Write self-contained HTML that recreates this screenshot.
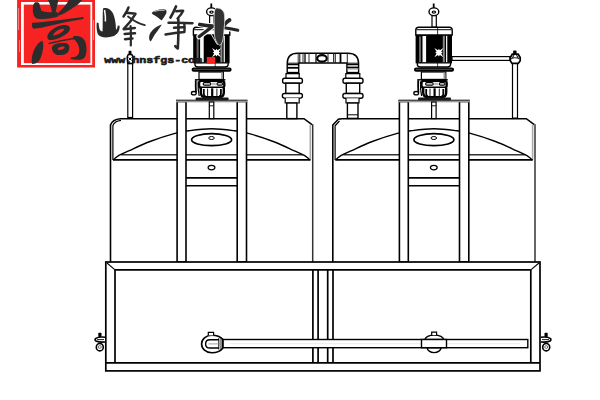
<!DOCTYPE html>
<html><head><meta charset="utf-8">
<style>
html,body{margin:0;padding:0;background:#fff;width:600px;height:400px;overflow:hidden;}
svg{display:block;}
</style></head>
<body>
<svg width="600" height="400" viewBox="0 0 600 400">
<defs>
<g id="tank" fill="none" stroke="#000" stroke-width="1.6">
  <line x1="310.3" y1="124.8" x2="310.3" y2="159.5" stroke-width="1.6" stroke="#aaa"/>
  <line x1="312.7" y1="124.2" x2="312.7" y2="262" stroke="#333" stroke-width="1.5"/>
  <line x1="113" y1="159.8" x2="310.5" y2="159.8" stroke-width="1.7"/>
  <line x1="121" y1="154.8" x2="303" y2="154.8" stroke-width="1.4" stroke="#333"/>
  <path d="M113.3,160.0 C114.0,159.4 114.7,157.9 117.5,156.3 C120.3,154.7 124.6,152.8 130.0,150.3 C135.4,147.8 142.5,144.3 150.0,141.5 C157.5,138.7 168.3,135.2 175.0,133.4 C181.7,131.6 183.9,131.4 190.0,130.6 C196.1,129.8 204.4,128.8 211.6,128.8 C218.8,128.8 227.1,129.8 233.2,130.6 C239.3,131.4 241.5,131.6 248.2,133.4 C254.9,135.2 265.7,138.7 273.2,141.5 C280.7,144.3 287.8,147.8 293.2,150.3 C298.6,152.8 302.9,154.7 305.7,156.3 C308.5,157.9 309.2,159.4 309.9,160.0" stroke-width="1.4"/>
  <!-- stand -->
  <rect x="177.1" y="101.5" width="8.9" height="160.5" fill="#fff"/>
  <rect x="237.2" y="101.5" width="9.3" height="160.5" fill="#fff"/>
  <rect x="176" y="99.7" width="71.5" height="2.6" fill="#999" stroke="none"/>
  <line x1="176" y1="100.3" x2="247.5" y2="100.3" stroke="#333" stroke-width="1.1"/>
  <rect x="209.3" y="102" width="4.5" height="16.6" fill="#fff" stroke-width="1.2"/>
  <line x1="209.3" y1="105.8" x2="213.8" y2="105.8" stroke-width="0.9"/>
  <ellipse cx="211.6" cy="139.7" rx="20" ry="6" stroke-width="1.7"/>
  <ellipse cx="211.5" cy="138" rx="2.8" ry="1.5" stroke-width="1"/>
  <ellipse cx="211.5" cy="167.6" rx="3.4" ry="2.2" stroke-width="1.2"/>
  <line x1="186" y1="177.8" x2="237.2" y2="177.8" stroke-width="1.8"/>
  <line x1="186" y1="185.7" x2="237.2" y2="185.7" stroke-width="1.6"/>
</g>
<g id="motor">
  <rect x="432.8" y="3.5" width="1.8" height="5" fill="#000"/>
  <ellipse cx="433.9" cy="11.8" rx="4.9" ry="3.9" fill="#fff" stroke="#000" stroke-width="1.4"/>
  <ellipse cx="433.9" cy="12.1" rx="2.3" ry="1.6" fill="#000"/><ellipse cx="433.9" cy="12.1" rx="0.8" ry="0.6" fill="#fff"/>
  <rect x="432" y="15.7" width="4.3" height="11.5" fill="#fff" stroke="#000" stroke-width="1.2"/>
  <path d="M415.8,35 V30 Q415.8,27.2 418.8,27.2 H449.2 Q452.2,27.2 452.2,30 V35 Z" fill="#fff" stroke="#000" stroke-width="1.4"/>
  <line x1="416.5" y1="29.7" x2="451.5" y2="29.7" stroke="#333" stroke-width="1.2"/>
  <line x1="437.6" y1="27.5" x2="437.6" y2="35" stroke="#000" stroke-width="0.8"/>
  <rect x="415.6" y="35" width="36.4" height="28.3" fill="#000"/>
  <rect x="422.5" y="36" width="3.6" height="26.6" fill="#fafafa"/>
  <rect x="419" y="36.5" width="2" height="25.5" fill="#666"/>
  <rect x="442.8" y="35.8" width="2" height="26.8" fill="#888"/>
  <rect x="446" y="35.8" width="1.3" height="26.8" fill="#eee"/>
  <path d="M443.43,57.13 L439.86,54.91 L438.90,56.40 L437.94,54.91 L434.37,57.13 L436.59,53.56 L435.10,52.60 L436.59,51.64 L434.37,48.07 L437.94,50.29 L438.90,48.80 L439.86,50.29 L443.43,48.07 L441.21,51.64 L442.70,52.60 L441.21,53.56 Z" fill="#fff"/>
  <path d="M417.3,62.8 H450.6 V64.3 Q450.6,67 447.6,67 H420.3 Q417.3,67 417.3,64.3 Z" fill="#fff" stroke="#000" stroke-width="1.3"/>
  <line x1="437.6" y1="63" x2="437.6" y2="67" stroke="#000" stroke-width="0.7"/>
  <rect x="414" y="67.5" width="40" height="4.3" rx="2.1" fill="#000"/>
  <line x1="416" y1="69.3" x2="452" y2="69.3" stroke="#666" stroke-width="0.8"/>
  <rect x="421.4" y="72" width="24.4" height="7.4" fill="#fff" stroke="#000" stroke-width="1.2"/>
  <rect x="443.5" y="72.5" width="2" height="6.6" fill="#999"/>
  <!-- pump head -->
  <line x1="417.3" y1="79.8" x2="447.8" y2="79.8" stroke="#000" stroke-width="1.4"/>
  <rect x="421.5" y="80.8" width="25.2" height="6.8" rx="2.2" fill="#fff" stroke="#000" stroke-width="2.3"/>
  <rect x="425.6" y="82.7" width="7.6" height="2.4" rx="1.2" fill="#fff" stroke="#000" stroke-width="1.2"/>
  <rect x="434.2" y="82.6" width="4" height="2.6" fill="#bbb"/>
  <rect x="439.4" y="82.7" width="5.6" height="2.4" rx="1.2" fill="#fff" stroke="#000" stroke-width="1.2"/>
  <path d="M423.2,88 V92.5 Q423.2,97.3 428.5,97.3 H441 Q446.2,97.3 446.2,92.5 V88" fill="#fff" stroke="#000" stroke-width="2.4"/>
  <path d="M426.2,89 V94 Q426.2,96 428,96.3" fill="none" stroke="#000" stroke-width="1.8"/>
  <path d="M443.3,89 V94 Q443.3,96 441.5,96.3" fill="none" stroke="#000" stroke-width="1.8"/>
  <line x1="434.6" y1="88.3" x2="434.6" y2="96.8" stroke="#000" stroke-width="2.2"/>
  <line x1="430" y1="88.6" x2="430" y2="96" stroke="#000" stroke-width="0.9"/>
  <line x1="439.3" y1="88.6" x2="439.3" y2="96" stroke="#000" stroke-width="0.9"/>
  <path d="M418.2,80.2 C418,84 418.1,88 418.4,92.5" fill="none" stroke="#000" stroke-width="1.8"/>
  <path d="M420.5,81.5 C420.3,86 420.6,91 421.6,96" fill="none" stroke="#000" stroke-width="1.2"/>
  <ellipse cx="416.2" cy="93.2" rx="2.4" ry="1.7" fill="#fff" stroke="#000" stroke-width="1.3"/>
  <rect x="418" y="97.6" width="33" height="2.6" rx="1" fill="#1a1a1a"/>
</g>
</defs>


<!-- logo stamp -->
<g>
  <path fill-rule="evenodd" d="M17.1,0 H95 V67.4 H17.1 Z M21,2 V65 H92.2 V2 Z" fill="#f72222"/>
  <path d="M18.6,8 V30 M19.5,40 V52 M93.5,20 V40" stroke="#f6a0a0" stroke-width="0.8"/>
  <rect x="23.8" y="4.6" width="66.6" height="58.5" fill="#f72222"/>
  <g fill="#2c2c2c">
    <path d="M35,2.3 C37.5,1.8 39.5,2.5 39.3,3.5 C40,6 40.5,8.5 41.5,11 C46,12.5 52,12.5 57,12 L58.6,16.3 C52,18.5 44,19.5 37.5,18.7 C34,17.5 33,14 32.8,10 C32.7,6 33.5,3.5 35,2.3 Z"/>
    <path d="M48,0 H58.5 C57.5,4 56.5,8 55.5,12.8 L52,13 C51.5,8 50,4 48,0 Z"/>
    <path d="M69,0 H82 C80,3 75,7 68,11 C64,13.5 61,15 58.5,15.5 L57.5,13.5 C62,10 66,5 69,0 Z"/>
    <path d="M32.3,22.8 C45,22 65,19.5 83,17 C84,17.3 84,19 82,19.3 C70,21 60,23.5 50,25.8 C44,27 38,28.6 34,28.8 C32,28.5 31.5,24.5 32.3,22.8 Z"/>
    <path fill-rule="evenodd" d="M47.5,38 C46,33 55,26 63,25 C69,24.5 71,27 69.5,30.5 C67,35 58,39.5 51,40 C49,40.2 48,39.5 47.5,38 Z M53,35.5 C56,35.5 62,33 64,30 C64.5,29 63,28.5 61,29 C57,30 54,32.5 53,35.5 Z"/>
    <path d="M42.5,41 C44,44 43,52 41,57 C39.5,61 37,64 32,64 C31,58 33,50 37,45 C39,42.5 41,41 42.5,41 Z"/>
    <path d="M48.3,43 C56,41 66,39 75,37.5 L75.2,39 C66,40.5 56,42.5 48.5,44.2 Z"/>
    <path d="M73,36.5 C78,35 83,37 85,41 C87,46 87,53 85,57 C83,60 78,60.5 71,59 L70.5,57.5 C75,57.5 78,56 79,53 C80,49 79,43 73,38.5 Z"/>
    <path fill-rule="evenodd" d="M52,47 C53,43.5 60,42.5 65,43 C69,43.5 70,46 69,50 C68,54 63,55.5 58,55 C54,54.5 51.5,51 52,47 Z M57.5,49.5 C59,50.5 63,50 64.5,48 C65,47 64,46.3 62,46.5 C59.5,46.8 57.8,48 57.5,49.5 Z"/>
  </g>
</g>
<!-- 峰 -->
<g fill="#2a2a2a" stroke="none">
  <path d="M103,8.5 C106.5,7 110.5,9 112.5,12.5 C115,17 116,24 116,30 C116.8,29 117.5,27.5 117.8,25.5 L119.6,25.8 C120,30 118,34 114,36 C108,38 101,38 98.5,35 C96.5,32.5 96.3,26 96.8,22.5 L98.6,23 C99,28 99.5,31 102.5,31.5 C103,25 102.5,15 103,8.5 Z"/>
</g>
<path d="M104.5,10 C105.3,14 105.6,18 105.4,21.5" fill="none" stroke="#fff" stroke-width="1.5"/>
<g fill="none" stroke="#2a2a2a" stroke-width="2.5" stroke-linecap="round" stroke-linejoin="round">
  <path d="M128.5,7.5 C127.5,10.5 125.5,14 123.5,16.5"/>
  <path d="M126,12.8 C129,13 132,13.2 135.5,13.8 C132.5,19 128,24.5 123.8,28.8"/>
  <path d="M128,16.5 C132.5,20 138,23.5 144.8,25.2" stroke-width="1.8"/>
  <path d="M123.8,29.2 C127.5,28.8 131,28.4 134.8,28"/>
  <path d="M124.6,34 C128,33.7 131.5,33.4 135,33.2"/>
  <path d="M125,39.2 C127.5,38.9 130,38.6 132.5,38.4"/>
  <path d="M130.6,26 C131,32 131,39 130.8,45.5" stroke-width="2.2"/>
</g>
<!-- 净 -->
<g fill="#2a2a2a" stroke="none">
  <path d="M151.8,12.8 C154.5,10 159.5,8.8 164,9.2 C166.5,9.4 167.2,11.5 166.2,13.5 C164.8,16 163.3,18.5 161.6,20.6 C159.6,19 157,16.6 154.5,15.2 C153,14.6 151.6,13.8 151.8,12.8 Z"/>
  <path d="M161.8,24.4 C160.3,27 157.3,31 154.8,34.5 C153.2,37 151.8,40 150.6,41.6 C148.9,40.2 148.6,37 149.8,34 C151.8,30 156,26.4 161.8,24.4 Z"/>
</g>
<path d="M154.5,11.6 C157.5,10.4 161,10 164.5,10.4" fill="none" stroke="#ddd" stroke-width="0.9"/>
<g fill="none" stroke="#2a2a2a" stroke-width="2.4" stroke-linecap="round" stroke-linejoin="round">
  <path d="M176,6.5 C174.5,10 173,13.5 170.5,17.5" stroke-width="2.7"/>
  <path d="M176.2,11.2 C178.5,10.8 181,10.6 183.2,10.8 C182,13.5 180,16 177.5,18.5"/>
  <path d="M168.5,22.8 C176,22.6 184,22.7 192.5,23.2"/>
  <path d="M174,27.8 C177.5,27.4 181,27.2 184.5,27.3 L184.3,23.5"/>
  <path d="M165.5,34.5 C172,33.2 178,32.4 184.5,32 L184.5,27.8"/>
  <path d="M178.3,19 C178.6,28 178.4,38 177.8,48.5 C176.8,47.5 176,46.8 175.3,46.2" stroke-width="2.6"/>
</g>
<!-- tanks -->
<g fill="none" stroke="#000" stroke-width="1.6">
  <path d="M110.5,262 V125 C111.5,122 115,119.2 120.5,118.7 H304 L312,124.6"/>
  <path d="M112.9,160 V125.5 C113.8,123 116.5,121 121,120.4" stroke-width="1.2"/>
  <path d="M332.8,262 V125 L338.3,119.3 C339,118.9 340,118.7 342,118.7 H526.3 L534.3,124.6"/>
  <path d="M335.1,160 V125.8 L339.5,121" stroke-width="1.2"/>
</g>
<use href="#tank"/>
<use href="#tank" transform="translate(222.3,0)"/>


<!-- left rod -->
<g fill="#fff" stroke="#000" stroke-width="1.2">
  <rect x="127.8" y="63.5" width="4.8" height="54"/>
  <rect x="512.5" y="63.4" width="5" height="54.7"/>
  <rect x="452" y="56.6" width="58" height="3.8" />
</g>
<!-- right rod fitting -->
<path d="M512.3,54.2 H518.2 L520.2,57.5 V60.8 L518.3,63.4 H512 L510.3,60.8 V57.5 Z" fill="#fff" stroke="#000" stroke-width="1.7"/>
<path d="M511,58.8 C513,57.5 517,57.5 519.5,58.8 M514,55 L512,58.5 M516.5,55 L518.5,58.5" fill="none" stroke="#222" stroke-width="1.1"/>
<rect x="513.1" y="50.6" width="3.5" height="3.5" rx="0.8" fill="#000"/>
<!-- left rod fitting -->
<path d="M128.3,54.5 H131.8 L133,57 L132.6,63.6 H127.7 L127.2,57 Z" fill="#fff" stroke="#000" stroke-width="1.5"/>
<path d="M128.4,57.5 L131.5,60.5 M131.5,57.5 L128.4,60.5" stroke="#000" stroke-width="1"/>
<rect x="128.6" y="50.8" width="2.8" height="3.2" fill="#000"/>

<!-- connecting pipe -->
<g fill="#fff" stroke="#000" stroke-width="1.4">
  <path d="M287.2,74 V63.5 Q287.2,53.2 297.5,53.2 H348 Q358.6,53.2 358.6,63.5 V74 H346.9 V63 H298.7 V74 Z"/>
  <path d="M286,78.2 V73.6 H299.2 V78.2" stroke-width="1.2"/>
  <path d="M345.8,78.2 V73.6 H359.8 V78.2" stroke-width="1.2"/>
  <rect x="282.6" y="78.2" width="19.8" height="5" rx="2"/>
  <rect x="285.8" y="83.2" width="13.4" height="10.3"/>
  <rect x="282.4" y="93.5" width="20" height="4.6" rx="2"/>
  <path d="M285.2,98.1 V103 H299.2 V98.1" stroke-width="1.2"/>
  <rect x="286.8" y="103" width="10.1" height="15.6"/>
  <rect x="343" y="78.2" width="20" height="5" rx="2"/>
  <rect x="346.3" y="83.2" width="13.4" height="10.3"/>
  <rect x="342.9" y="93.5" width="20.1" height="4.8" rx="2"/>
  <path d="M346,98.3 V103 H359 V98.3" stroke-width="1.2"/>
  <rect x="347.4" y="103" width="10.6" height="15.4"/>
  <line x1="347.4" y1="114.8" x2="358" y2="114.8" stroke-width="1"/>
  <ellipse cx="322" cy="58.4" rx="4.8" ry="3.2" stroke-width="2.2"/>
</g>
<g stroke="#000" stroke-width="1">
  <line x1="298.2" y1="53.5" x2="298.2" y2="62.8" stroke="#333"/>
  <line x1="299.8" y1="53.5" x2="299.8" y2="62.8"/>
  <line x1="303" y1="53.5" x2="303" y2="62.8" stroke="#333"/>
  <line x1="305" y1="53.5" x2="305" y2="62.8" stroke-width="1.3"/>
  <line x1="309" y1="53.5" x2="309" y2="62.8" stroke="#333"/>
  <line x1="316" y1="53.5" x2="316" y2="62.8" stroke-width="1.2"/>
  <line x1="328" y1="53.5" x2="328" y2="62.8" stroke="#222"/>
  <line x1="333.5" y1="53.5" x2="333.5" y2="62.8" stroke="#333"/>
  <line x1="335.2" y1="53.5" x2="335.2" y2="62.8"/>
  <line x1="340.5" y1="53.5" x2="340.5" y2="62.8" stroke-width="1.8"/>
  <line x1="347.3" y1="53.5" x2="347.3" y2="62.8" stroke="#222"/>
  <line x1="287.2" y1="63.2" x2="298.7" y2="63.2"/>
  <line x1="287.2" y1="64.6" x2="298.7" y2="64.6" stroke-width="1.3"/>
  <line x1="287.2" y1="67.8" x2="298.7" y2="67.8" stroke-width="1.8"/>
  <line x1="287.2" y1="72.5" x2="298.7" y2="72.5" stroke-width="1.3"/>
  <line x1="346.9" y1="63.2" x2="358.6" y2="63.2"/>
  <line x1="346.9" y1="64.6" x2="358.6" y2="64.6" stroke-width="1.3"/>
  <line x1="346.9" y1="67.5" x2="358.6" y2="67.5" stroke-width="1.8"/>
  <line x1="346.9" y1="69" x2="358.6" y2="69" stroke="#999"/>
  <line x1="346.9" y1="72.5" x2="358.6" y2="72.5" stroke-width="1.3"/>
</g>

<!-- frame -->
<g fill="none" stroke="#000" stroke-width="1.7">
  <rect x="105.8" y="262" width="434.2" height="108.9" fill="#fff"/>
  <line x1="115" y1="269.8" x2="530.8" y2="269.8"/>
  <line x1="115" y1="269.8" x2="115" y2="362.9"/>
  <line x1="530.8" y1="269.8" x2="530.8" y2="362.9"/>
  <line x1="105.8" y1="362.9" x2="540" y2="362.9"/>
  <line x1="107" y1="263" x2="115" y2="269.8" stroke-width="1.1"/>
  <line x1="539" y1="263" x2="530.8" y2="269.8" stroke-width="1.1"/>
  <line x1="312.9" y1="269.8" x2="312.9" y2="362.9"/>
  <line x1="318.1" y1="269.8" x2="318.1" y2="362.9"/>
  <line x1="327.7" y1="269.8" x2="327.7" y2="362.9"/>
  <line x1="333" y1="269.8" x2="333" y2="362.9"/>
</g>

<!-- bottom pipe -->
<g fill="#fff" stroke="#000" stroke-width="1.4">
  <rect x="222.8" y="339.5" width="305" height="8.2"/>
  <line x1="230" y1="343.7" x2="520" y2="343.7" stroke="#ddd" stroke-width="0.6"/>
  <path d="M222.8,339.3 C220,336 216.5,335.2 211.8,335.2 C205.8,335.2 201.6,339.2 201.6,344 C201.6,348.8 205.8,352.7 211.8,352.7 C216.5,352.7 220,351.8 222.8,348.2 Z" stroke-width="1.6"/>
  <path d="M218.8,339.8 H209.8 Q205.6,339.8 205.6,343.9 Q205.6,348 209.8,348 H218.8" fill="none" stroke-width="1.4"/>
  <line x1="218.8" y1="338.2" x2="218.8" y2="349.5" stroke-width="1"/>
  <line x1="221" y1="338" x2="221" y2="349.8" stroke-width="0.9"/>
  <line x1="208.5" y1="343.9" x2="221" y2="343.9" stroke="#888" stroke-width="0.8"/>
  <path d="M208.3,335.4 V332.3 H213.6 V335.4" stroke-width="1.2"/>
  <path d="M425,339.5 A9.3,4.4 0 0 1 443.6,339.5 Z" stroke-width="1.4"/>
  <path d="M427.2,347.7 A6.9,4.9 0 0 0 441,347.7 Z" stroke-width="1.4"/>
  <rect x="421.5" y="339.5" width="25" height="8.2" stroke-width="1.4"/>
  <path d="M431.7,335 V332.2 H436.6 V335" stroke-width="1.2"/>
</g>
<!-- bolts -->
<g id="bolt" fill="#fff" stroke="#000" stroke-width="1.6">
  <rect x="98.3" y="332.8" width="3.2" height="4.2" rx="0.8" fill="#000" stroke="none"/>
  <path d="M105,337.2 C101,336.8 97.5,337 95.5,338.6 C94.6,339.5 95.2,340.8 96.5,341.3 C99,342.2 102,342.2 105,342"/>
  <line x1="97" y1="339.6" x2="104" y2="339.6" stroke-width="0.9"/>
  <ellipse cx="99.8" cy="347.2" rx="3.5" ry="3.7"/>
  <ellipse cx="99.8" cy="347" rx="1.5" ry="1.4" fill="#fff" stroke="#555" stroke-width="0.8"/>
</g>
<use href="#bolt" transform="translate(646,0) scale(-1,1)"/>

<!-- motors -->
<use href="#motor"/>
<use href="#motor" transform="translate(-222.4,0)"/>


<!-- www text -->
<text x="104.3" y="63.3" font-family="Liberation Mono" font-weight="bold" font-size="9.9" fill="#1a1a1a" stroke="#1a1a1a" stroke-width="0.65" textLength="97.8" lengthAdjust="spacingAndGlyphs">www.hnsfgs-com</text>
<!-- 水 over motor -->
<path d="M209,30.5 L217.5,44.8" stroke="#fff" stroke-width="0.9" fill="none"/>
<g fill="none" stroke-linecap="round" stroke-linejoin="round">
  <path d="M212,26.8 C208,29.8 204,33 199.2,36.6 M199.8,24.5 C204,25.3 208.5,25.9 212.8,26.2 M224.2,24.8 C225.8,22.8 227.5,21.2 229.5,20 M223.6,27.6 C228,28.3 232,28.9 237.8,30.3" stroke="#fff" stroke-width="5.6"/>
  <path d="M212,26.8 C208,29.8 204,33 199.2,36.6" stroke="#262626" stroke-width="3.4"/>
  <path d="M199.8,24.5 C204,25.3 208.5,25.9 212.8,26.2" stroke="#262626" stroke-width="3.8"/>
  <path d="M224.2,24.8 C225.8,22.8 227.5,21.2 229.5,20" stroke="#262626" stroke-width="3.8"/>
  <path d="M223.6,27.6 C228,28.3 232,28.9 237.8,30.3" stroke="#262626" stroke-width="3"/>
</g>
<path d="M216,8 C219,7.6 222.5,9 224,12.5 C225.2,16 224.8,22 224.2,28 C223.8,34 223.4,38 222.6,41 C221.9,43.5 220.6,45 219.6,45.3 C218.4,44.6 216.8,42.6 216,41 C214.6,38 214.2,34 214.2,30 C214.1,24 213.9,18 214.2,13 C214.4,10.5 215,8.8 216,8 Z" fill="#333" stroke="#eee" stroke-width="0.8"/>
<!-- red square -->
<rect x="206.8" y="57" width="8.4" height="6.6" fill="#f72222"/>
</svg>
</body></html>
